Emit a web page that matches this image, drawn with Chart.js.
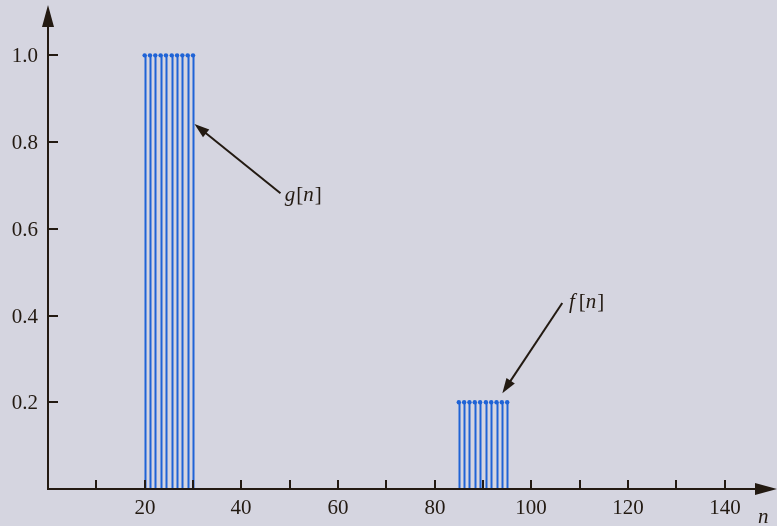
<!DOCTYPE html>
<html>
<head>
<meta charset="utf-8">
<script src="https://cdn.jsdelivr.net/npm/chart.js@4"></script>
<style>
  html, body { margin: 0; padding: 0; background: #d5d5e0; }
  #wrap { width: 777px; height: 526px; }
</style>
</head>
<body>
<div id="wrap"><canvas id="c" width="777" height="526"></canvas></div>
<script>
// ---- data ----
const gN = [20, 21.1, 22.2, 23.3, 24.4, 25.6, 26.7, 27.8, 28.9, 30];
const gVal = [1, 1, 1, 1, 1, 1, 1, 1, 1, 1];
const fN = [85, 86.1, 87.2, 88.3, 89.4, 90.6, 91.7, 92.8, 93.9, 95];
const fVal = [0.2, 0.2, 0.2, 0.2, 0.2, 0.2, 0.2, 0.2, 0.2, 0.2];
const xTicks = [10, 20, 30, 40, 50, 60, 70, 80, 90, 100, 110, 120, 130, 140];
const xTickLabels = ['', '20', '', '40', '', '60', '', '80', '', '100', '', '120', '', '140'];
const yTicks = [0.2, 0.4, 0.6, 0.8, 1.0];
const yTickLabels = ['0.2', '0.4', '0.6', '0.8', '1.0'];
// annotations: label, arrow tail, arrow tip, text position (data coordinates)
const annLabels = ['g', 'f'];
const annTail = [[48.1, 0.682], [106.4, 0.429]];
const annTip = [[30.3, 0.842], [94.0, 0.221]];
const annText = [[49.0, 0.676], [107.8, 0.430]];

const INK = '#231a12';
const STEM = '#1f63d6';
const FONT = '21px "Liberation Serif", "Times New Roman", serif';
const IFONT = 'italic 21px "Liberation Serif", "Times New Roman", serif';

function toPts(xs, ys) { return xs.map((x, i) => ({ x: x, y: ys[i] })); }

const stemPlugin = {
  id: 'stems',
  beforeDatasetsDraw(chart) {
    const ctx = chart.ctx;
    const xs = chart.scales.x, ys = chart.scales.y;
    ctx.save();
    ctx.strokeStyle = STEM;
    ctx.lineWidth = 2;
    chart.data.datasets.forEach(ds => {
      ds.data.forEach(p => {
        const px = Math.round(xs.getPixelForValue(p.x)) + 0.5;
        ctx.beginPath();
        ctx.moveTo(px, ys.getPixelForValue(0));
        ctx.lineTo(px, ys.getPixelForValue(p.y));
        ctx.stroke();
      });
    });
    ctx.restore();
  }
};

function arrowHead(ctx, x0, y0, x1, y1, len, half) {
  const a = Math.atan2(y1 - y0, x1 - x0);
  ctx.beginPath();
  ctx.moveTo(x1, y1);
  ctx.lineTo(x1 - len * Math.cos(a) + half * Math.sin(a), y1 - len * Math.sin(a) - half * Math.cos(a));
  ctx.lineTo(x1 - len * Math.cos(a) - half * Math.sin(a), y1 - len * Math.sin(a) + half * Math.cos(a));
  ctx.closePath();
  ctx.fill();
}

const axesPlugin = {
  id: 'axes',
  afterDatasetsDraw(chart) {
    const ctx = chart.ctx;
    const xs = chart.scales.x, ys = chart.scales.y;
    const x0 = xs.getPixelForValue(0), y0 = ys.getPixelForValue(0);
    ctx.save();
    ctx.strokeStyle = INK;
    ctx.fillStyle = INK;
    ctx.lineWidth = 2;
    ctx.beginPath();
    ctx.moveTo(x0, y0);
    ctx.lineTo(x0, 20);
    ctx.moveTo(x0 - 1, y0);
    ctx.lineTo(762, y0);
    ctx.stroke();
    arrowHead(ctx, x0, y0, x0, 5, 22, 6);
    arrowHead(ctx, x0, y0, 777, y0, 22, 6);
    ctx.font = FONT;
    ctx.textAlign = 'center';
    ctx.textBaseline = 'middle';
    xTicks.forEach((v, i) => {
      const px = Math.round(xs.getPixelForValue(v));
      ctx.beginPath();
      ctx.moveTo(px, y0);
      ctx.lineTo(px, y0 - 9);
      ctx.stroke();
      if (xTickLabels[i]) ctx.fillText(xTickLabels[i], px, y0 + 19);
    });
    ctx.textAlign = 'right';
    yTicks.forEach((v, i) => {
      const py = Math.round(ys.getPixelForValue(v));
      ctx.beginPath();
      ctx.moveTo(x0, py);
      ctx.lineTo(x0 + 10, py);
      ctx.stroke();
      ctx.fillText(yTickLabels[i], x0 - 10, py + 1);
    });
    ctx.font = IFONT;
    ctx.textAlign = 'left';
    ctx.fillText('n', 758, 517);
    annLabels.forEach((lab, i) => {
      const tx = xs.getPixelForValue(annTail[i][0]), ty = ys.getPixelForValue(annTail[i][1]);
      const hx = xs.getPixelForValue(annTip[i][0]), hy = ys.getPixelForValue(annTip[i][1]);
      const a = Math.atan2(hy - ty, hx - tx);
      ctx.beginPath();
      ctx.moveTo(tx, ty);
      ctx.lineTo(hx - 10 * Math.cos(a), hy - 10 * Math.sin(a));
      ctx.stroke();
      arrowHead(ctx, tx, ty, hx, hy, 15, 5);
      const lx = xs.getPixelForValue(annText[i][0]), ly = ys.getPixelForValue(annText[i][1]);
      ctx.textAlign = 'left';
      ctx.font = IFONT;
      ctx.fillText(lab, lx, ly);
      let w = ctx.measureText(lab).width + (lab === 'f' ? 4 : 1);
      ctx.font = FONT;
      ctx.fillText('[', lx + w, ly);
      w += ctx.measureText('[').width;
      ctx.font = IFONT;
      ctx.fillText('n', lx + w, ly);
      w += ctx.measureText('n').width + 1;
      ctx.font = FONT;
      ctx.fillText(']', lx + w, ly);
    });
    ctx.restore();
  }
};

new Chart(document.getElementById('c'), {
  type: 'scatter',
  data: {
    datasets: [
      { label: 'g[n]', data: toPts(gN, gVal), pointRadius: 2.2, pointBackgroundColor: STEM, pointBorderWidth: 0, showLine: false },
      { label: 'f[n]', data: toPts(fN, fVal), pointRadius: 2.2, pointBackgroundColor: STEM, pointBorderWidth: 0, showLine: false }
    ]
  },
  options: {
    responsive: false,
    animation: false,
    layout: { padding: { left: 48, right: 3, top: 12, bottom: 37 } },
    plugins: { legend: { display: false }, tooltip: { enabled: false } },
    scales: {
      x: { type: 'linear', min: 0, max: 150, display: false },
      y: { type: 'linear', min: 0, max: 1.1, display: false }
    }
  },
  plugins: [stemPlugin, axesPlugin]
});
</script>
</body>
</html>
